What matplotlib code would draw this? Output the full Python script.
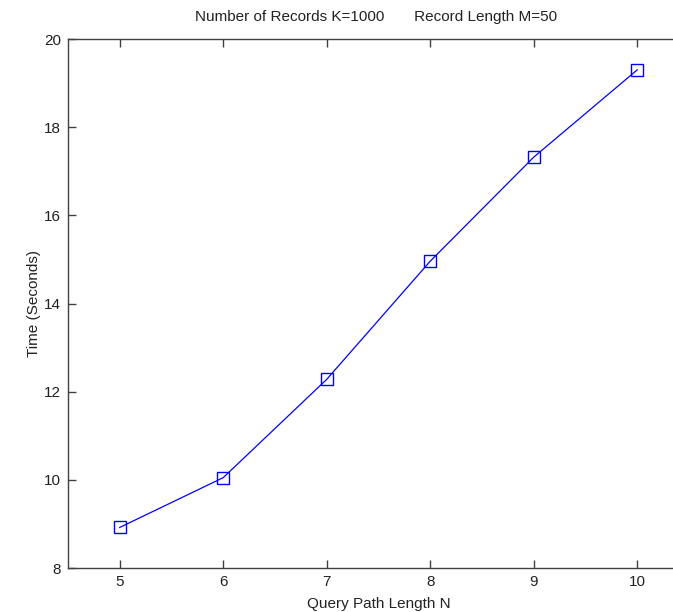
import matplotlib
matplotlib.use("Agg")
import matplotlib.pyplot as plt

# query path length N vs. time
path_length = [5, 6, 7, 8, 9, 10]
time_sec = [8.92, 10.05, 12.28, 14.96, 17.32, 19.30]

x_ticks = [5, 6, 7, 8, 9, 10]
y_ticks = [8, 10, 12, 14, 16, 18, 20]

plt.rcParams['font.family'] = ['Liberation Sans', 'DejaVu Sans']
plt.rcParams['font.size'] = 11

W, H = 673, 612
fig = plt.figure(figsize=(W / 100, H / 100), dpi=100)
# axes run past the right edge of the picture, like the cropped original
left, right, top, bottom = 68, 689, 39, 568
ax = fig.add_axes([left / W, 1 - bottom / H, (right - left) / W, (bottom - top) / H])

ax.plot(path_length, time_sec, color='#0000ff', lw=0.9, marker='s',
        markersize=8, markerfacecolor='none', markeredgecolor='#0000ff',
        markeredgewidth=1.0)

ax.set_xlim(4.5, 10.5)
ax.set_ylim(8, 20)
ax.set_xticks(x_ticks)
ax.set_yticks(y_ticks)

edge = '#404040'
for side in ['left', 'bottom', 'top']:
    ax.spines[side].set_color(edge)
    ax.spines[side].set_linewidth(1.0)
ax.spines['right'].set_visible(False)
ax.tick_params(direction='in', length=6, width=1.0, color=edge,
               labelcolor='#222222', top=True, right=False, pad=5)

ax.set_xlabel('Query Path Length N', color='#222222', labelpad=6)
ax.set_ylabel('Time (Seconds)', color='#222222', labelpad=2)
fig.text(376 / W, 1 - 17 / H,
         'Number of Records K=1000       Record Length M=50',
         ha='center', va='center', color='#222222', fontsize=11)

fig.savefig('out.png', dpi=100)
